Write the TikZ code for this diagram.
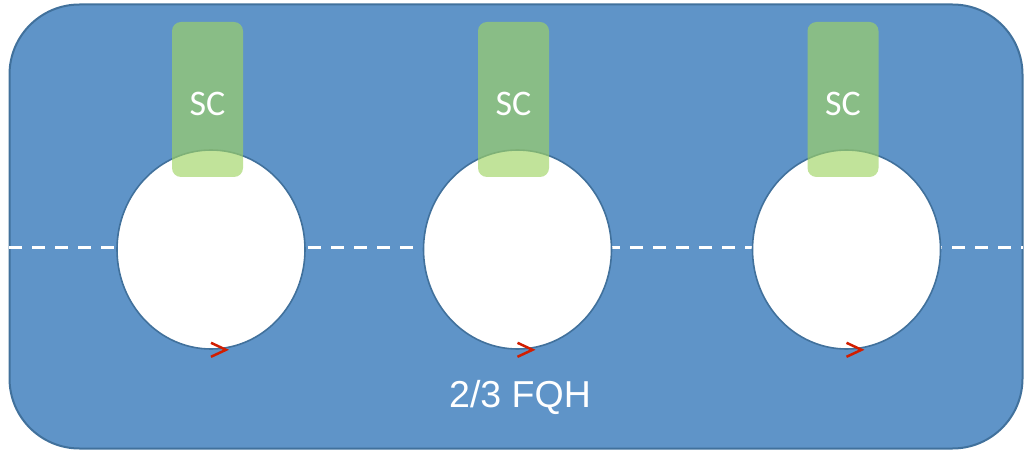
\documentclass[tikz,border=0pt]{standalone}
\usepackage{fontspec}
\setmainfont{Liberation Sans}
\newfontfamily\calfont{Carlito}
\usetikzlibrary{shapes.geometric}
\definecolor{fqhblue}{RGB}{95,148,200}
\definecolor{edgeblue}{RGB}{65,113,156}
\definecolor{scgreen}{RGB}{160,212,100}
\definecolor{flowred}{RGB}{210,30,0}
\tikzset{
  region/.style={draw=edgeblue, line width=2pt, fill=fqhblue, rounded corners=70pt,
    minimum width=1013pt, minimum height=444pt, inner sep=0pt},
  cut/.style={draw=white, line width=3pt, dash pattern=on 13pt off 10pt},
  hole/.style={ellipse, draw=edgeblue, line width=1.6pt, fill=white,
    minimum width=188pt, minimum height=199pt, inner sep=0pt},
  contact/.style={fill=scgreen, fill opacity=0.65, rounded corners=9pt,
    minimum width=71pt, minimum height=155pt, inner sep=0pt},
  sctext/.style={text=white, text opacity=1, inner sep=0pt,
    font=\calfont\fontsize{36}{42}\selectfont},
  flow/.style={draw=flowred, line width=2.5pt, line join=miter},
  label/.style={text=white, font=\fontsize{37.5}{44}\selectfont, inner sep=0pt}
}
\begin{document}
\begin{tikzpicture}[x=1pt, y=-1pt]
  \useasboundingbox (0,0) rectangle (1025,454);
  % quantum Hall region
  \node[region] (fqh) at (516,226.5) {};
  % dashed cut across the sample
  \coordinate (cl) at (9,248);
  \coordinate (cr) at (1023,248);
  \draw[cut] (cl) -- (cr);
  % antidots
  \node[hole] (h1) at (211,249.5) {};
  \node[hole] (h2) at (517.5,249.5) {};
  \node[hole] (h3) at (846.5,249.5) {};
  % superconducting contacts
  \node[contact] (s1) at (207.5,99.5) {};
  \node[contact] (s2) at (513.5,99.5) {};
  \node[contact] (s3) at (843,99.5) {};
  \foreach \s in {s1,s2,s3}
    \node[sctext] (\s t) at ([shift={(0,4)}]\s.center) {SC};
  % chirality of the edge modes
  \foreach \h in {h1,h2,h3}
    \draw[flow] ([shift={(0,-7)}]\h.south) -- ([shift={(15,0)}]\h.south) -- ([shift={(0,7)}]\h.south);
  \node[label] (lbl) at (520,397) {2/3 FQH};
\end{tikzpicture}
\end{document}
